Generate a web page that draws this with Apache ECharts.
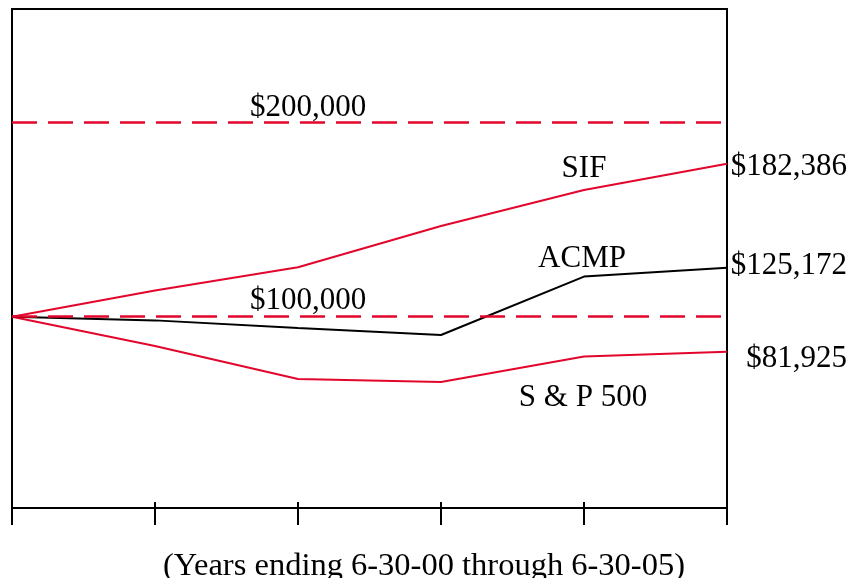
<!DOCTYPE html>
<html>
<head>
<meta charset="utf-8">
<script src="https://cdn.jsdelivr.net/npm/echarts@6/dist/echarts.min.js"></script>
<style>
html,body{margin:0;padding:0;background:#fff;}
#chart{width:861px;height:578px;}
</style>
</head>
<body>
<div id="chart"></div>
<script>
// ---- data ----
const categories = ['6-30-00', '6-30-01', '6-30-02', '6-30-03', '6-30-04', '6-30-05'];
const sif   = [100000, 113400, 125400, 146600, 165100, 178500];
const acmp  = [100000, 98100, 94200, 90600, 120600, 125172];
const sp500 = [100000, 84950, 68000, 66500, 79500, 81925];
const seriesNames = ['SIF', 'ACMP', 'S & P 500'];
const endLabels = ['$182,386', '$125,172', '$81,925'];
const refLevels = [200000, 100000];
const refLabels = ['$200,000', '$100,000'];
const axisTitle = '(Years ending 6-30-00 through 6-30-05)';

const RED = '#e2062c';
const FONT = '"Liberation Serif", "Times New Roman", serif';
const FS = 31;

function textLabel(text, align, offset) {
  return {
    show: true, position: 'inside', formatter: text, align: align,
    verticalAlign: 'middle', offset: offset,
    color: '#000', fontFamily: FONT, fontSize: FS
  };
}

function seriesMarks(values, idx, nameOffset, endOffset) {
  const last = values.length - 1;
  return [
    { coord: [categories[4], values[4]], label: textLabel(seriesNames[idx], 'center', nameOffset) },
    { coord: [categories[last], values[last]], label: textLabel(endLabels[idx], 'right', endOffset) }
  ];
}

const chart = echarts.init(document.getElementById('chart'), null, { renderer: 'canvas' });

const option = {
  animation: false,
  backgroundColor: '#fff',
  title: {
    text: axisTitle,
    left: 419, top: 545, textAlign: 'center',
    textStyle: { fontFamily: FONT, fontSize: 32.5, fontWeight: 'normal', color: '#000' }
  },
  grid: {
    left: 12, right: 134, top: 9, bottom: 70,
    show: true, borderColor: '#000', borderWidth: 2, backgroundColor: 'transparent'
  },
  xAxis: [
    {
      type: 'category', data: categories, boundaryGap: false, position: 'bottom',
      axisLine: { show: true, lineStyle: { color: '#000', width: 2 } },
      axisTick: { show: true, inside: false, length: 17, lineStyle: { color: '#000', width: 2 } },
      axisLabel: { show: false }, splitLine: { show: false }
    },
    {
      type: 'category', data: categories, boundaryGap: false, position: 'bottom',
      axisLine: { show: false },
      axisTick: { show: true, inside: true, length: 6, lineStyle: { color: '#000', width: 2 } },
      axisLabel: { show: false }, splitLine: { show: false }
    }
  ],
  yAxis: {
    type: 'value', min: 1750, max: 258000,
    show: false, splitLine: { show: false }
  },
  series: [
    {
      name: seriesNames[0], type: 'line', data: sif, xAxisIndex: 0,
      symbol: 'none', lineStyle: { color: RED, width: 2 }, itemStyle: { color: RED },
      z: 3,
      markLine: {
        silent: true, symbol: 'none',
        lineStyle: { color: RED, width: 2.5, type: [25, 11] },
        label: { show: false },
        data: refLevels.map(v => ({ yAxis: v }))
      },
      markPoint: {
        symbol: 'circle', symbolSize: 0, silent: true,
        data: seriesMarks(sif, 0, [0, -21], [120, 3]).concat(
          refLevels.map((v, i) => ({
            coord: [categories[2], v],
            label: textLabel(refLabels[i], 'center', [10, i === 0 ? -14 : -16])
          }))
        )
      }
    },
    {
      name: seriesNames[1], type: 'line', data: acmp, xAxisIndex: 0,
      symbol: 'none', lineStyle: { color: '#000', width: 2 }, itemStyle: { color: '#000' },
      z: 4,
      markPoint: {
        symbol: 'circle', symbolSize: 0, silent: true,
        data: seriesMarks(acmp, 1, [-2, -18], [120, -2])
      }
    },
    {
      name: seriesNames[2], type: 'line', data: sp500, xAxisIndex: 0,
      symbol: 'none', lineStyle: { color: RED, width: 2 }, itemStyle: { color: RED },
      z: 3,
      markPoint: {
        symbol: 'circle', symbolSize: 0, silent: true,
        data: seriesMarks(sp500, 2, [-1, 41], [120, 7])
      }
    }
  ]
};

chart.setOption(option);
</script>
</body>
</html>
